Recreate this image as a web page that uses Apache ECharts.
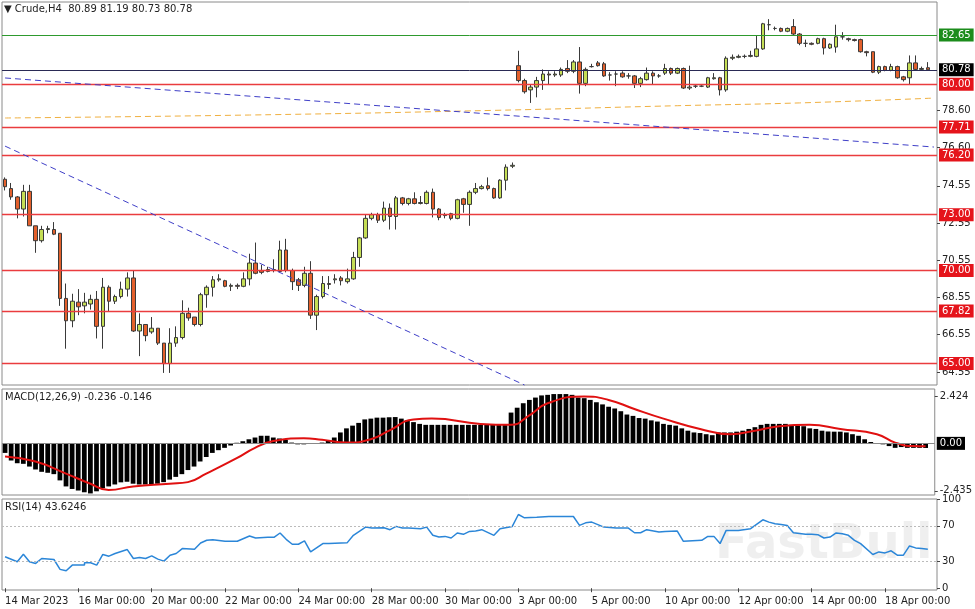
<!DOCTYPE html>
<html>
<head>
<meta charset="utf-8">
<script src="https://cdn.jsdelivr.net/npm/echarts@6/dist/echarts.min.js"></script>
<style>
  html, body { margin: 0; padding: 0; background: #fff; }
  #main { width: 975px; height: 609px; }
</style>
</head>
<body>
<div id="main"></div>
<script>
// H4 bars, index 0..151
var opens = [74.9,74.4,73.95,73.3,74.25,72.4,71.6,72.2,72.2,72.0,68.5,67.3,68.3,68.1,68.2,68.45,67.0,69.1,68.35,68.6,
  69.0,69.6,66.75,67.1,66.7,66.9,66.1,65.0,66.1,66.4,67.7,67.5,67.1,68.7,69.1,69.5,69.45,69.15,69.2,69.15,
  69.55,70.4,70.0,69.95,70.05,69.95,71.1,70.0,69.5,69.2,69.85,67.6,68.6,69.3,69.5,69.6,69.4,69.55,70.7,71.75,
  72.8,73.0,72.7,73.35,72.9,73.9,73.6,73.85,73.6,73.6,74.2,73.3,73.0,73.05,72.8,73.85,73.55,74.2,74.4,74.55,
  74.4,73.9,74.85,75.6,81.0,80.2,79.7,79.85,80.2,80.55,80.5,80.5,80.85,80.7,81.2,80.05,80.95,81.15,81.1,80.5,
  80.55,80.6,80.45,80.45,80.05,80.25,80.6,80.45,80.6,80.85,80.6,80.85,79.8,79.9,79.9,79.85,80.3,80.35,79.7,81.4,
  81.45,81.5,81.5,81.5,81.9,83.2,83.0,83.0,82.85,83.1,82.7,82.2,82.2,82.2,82.45,81.95,82.0,82.55,82.45,82.4,
  82.4,81.75,81.75,80.65,80.95,80.75,80.95,80.4,80.35,81.15,80.8,80.89];
var closes = [74.5,73.95,73.3,74.25,72.4,71.6,72.2,72.25,71.95,68.5,67.3,68.35,68.05,68.3,68.45,67.0,69.1,68.35,68.6,69.0,
  69.6,66.75,67.1,66.5,66.9,66.1,65.0,66.1,66.4,67.7,67.45,67.1,68.7,69.1,69.5,69.55,69.15,69.2,69.15,69.55,
  70.4,69.85,69.9,70.05,70.0,71.1,70.0,69.4,69.2,69.85,67.6,68.6,69.3,69.25,69.55,69.45,69.55,70.7,71.75,72.8,
  73.0,72.7,73.35,72.9,73.9,73.6,73.85,73.6,73.65,74.2,73.3,72.85,72.95,72.8,73.8,73.55,74.2,74.4,74.5,74.4,
  73.9,74.85,75.55,75.65,80.2,79.6,79.85,80.2,80.55,80.5,80.55,80.8,80.7,81.2,80.05,80.8,80.95,81.0,80.45,80.5,
  80.55,80.4,80.45,80.05,80.3,80.6,80.45,80.45,80.85,80.6,80.85,79.8,79.85,79.9,79.9,80.35,80.35,79.7,81.4,81.45,
  81.5,81.5,81.55,81.9,83.25,83.2,83.0,82.85,83.0,82.7,82.2,82.2,82.15,82.45,81.95,82.15,82.55,82.55,82.4,82.35,
  81.75,81.7,80.65,80.95,80.75,80.95,80.35,80.25,81.15,80.8,80.85,80.78];
var highs = [75.0,74.7,74.0,74.6,74.6,72.4,72.4,72.4,72.6,72.0,69.3,68.75,69.0,68.8,68.7,68.9,69.6,69.2,68.7,69.4,
  69.9,70.0,67.7,67.1,67.5,66.9,66.1,66.9,67.0,68.4,68.0,67.5,68.8,69.2,69.7,69.8,69.5,69.3,69.3,69.9,
  70.9,71.5,70.3,70.2,70.6,71.6,71.7,70.1,69.6,70.2,70.5,68.7,69.7,69.7,69.8,69.7,70.1,71.0,71.8,73.0,
  73.1,73.1,73.7,73.6,74.0,73.95,73.9,74.2,74.0,74.3,74.4,73.35,73.1,73.1,73.85,73.9,74.3,74.7,74.6,75.0,
  74.45,74.9,75.7,75.8,81.8,80.3,80.0,80.4,80.8,80.7,80.7,80.9,81.3,81.3,82.0,80.9,81.1,81.25,81.2,80.65,
  80.7,80.7,80.6,80.5,80.4,80.9,80.7,80.55,81.1,80.9,80.9,80.9,81.0,80.0,79.95,80.4,80.6,80.4,81.5,81.6,
  81.6,81.6,81.8,82.6,83.3,83.5,83.1,83.05,83.05,83.5,82.75,82.4,82.25,82.5,82.5,82.2,83.2,82.8,82.5,82.45,
  82.45,81.8,81.75,81.0,81.0,81.1,81.0,80.45,81.55,81.55,80.95,81.19];
var lows = [74.3,73.8,72.8,72.9,72.4,70.95,71.5,72.0,71.9,68.1,65.8,66.95,67.6,67.7,67.9,66.35,65.8,67.8,68.2,68.5,
  68.6,66.7,65.4,66.2,66.6,66.0,64.5,64.5,65.9,66.3,67.3,67.0,67.0,68.0,68.6,69.4,69.1,68.9,69.0,69.1,
  69.2,69.8,69.8,69.9,69.9,69.9,69.9,68.95,68.9,69.1,67.4,66.8,68.5,69.0,69.3,69.2,69.3,69.5,70.2,71.7,
  72.7,72.55,72.6,72.2,72.2,73.5,73.5,73.55,73.55,73.55,72.85,72.7,72.8,72.7,72.75,73.1,72.4,74.1,74.35,74.3,
  73.85,73.85,74.3,75.5,80.1,79.5,79.0,79.3,79.7,80.0,80.4,80.4,80.6,80.6,79.5,79.9,80.9,80.95,80.4,80.2,
  79.9,80.35,80.3,79.8,79.85,80.2,80.0,80.35,80.5,80.5,80.55,79.75,79.7,79.8,79.85,79.8,80.25,79.4,79.6,81.3,
  81.4,81.4,81.45,81.45,81.85,82.9,82.9,82.8,82.8,82.65,82.1,82.0,82.1,82.15,81.6,81.9,81.7,82.4,82.3,82.3,
  81.7,81.5,80.6,80.55,80.7,80.7,80.3,80.15,80.0,80.75,80.75,80.73];

var macdHist = [-0.49,-0.88,-1.02,-1.05,-1.19,-1.34,-1.46,-1.51,-1.58,-1.90,-2.21,-2.34,-2.42,-2.51,-2.57,-2.46,-2.30,-2.21,-2.11,-2.00,
  -1.97,-2.07,-2.11,-2.11,-2.11,-2.07,-1.99,-1.86,-1.72,-1.58,-1.37,-1.19,-0.93,-0.70,-0.49,-0.35,-0.23,-0.11,0.03,0.11,
  0.21,0.30,0.39,0.39,0.30,0.25,0.18,0.04,-0.05,-0.05,-0.03,0.01,0.04,0.12,0.30,0.56,0.77,0.91,1.05,1.23,
  1.27,1.32,1.32,1.34,1.35,1.27,1.18,1.09,1.00,0.95,0.95,0.95,0.95,0.95,0.95,0.95,0.95,0.95,0.95,0.95,
  0.95,0.95,0.95,1.58,1.83,2.06,2.23,2.35,2.46,2.49,2.53,2.53,2.53,2.49,2.35,2.32,2.23,2.11,2.00,1.88,
  1.79,1.65,1.48,1.41,1.30,1.27,1.18,1.12,1.00,0.95,0.91,0.77,0.65,0.56,0.53,0.47,0.42,0.56,0.56,0.56,
  0.60,0.65,0.74,0.83,0.95,1.00,1.00,1.00,1.00,0.95,0.91,0.88,0.77,0.74,0.65,0.61,0.60,0.60,0.56,0.47,
  0.39,0.21,0.07,-0.01,-0.05,-0.14,-0.23,-0.19,-0.23,-0.23,-0.23,-0.236];

var macdSignal = [[0,-0.67],[5,-0.93],[10.4,-1.55],[13.7,-2.07],[17,-2.39],[21.3,-2.21],[26.8,-2.07],[30,-1.99],
  [33.3,-1.55],[37.7,-0.76],[41,-0.23],[44.2,0.12],[48.6,0.26],[51.9,0.18],[56.2,0.04],[59.5,0.21],[62.8,0.65],
  [67.2,1.23],[70.4,1.27],[78.1,1.0],[82.5,0.95],[85.7,1.44],[89,2.06],[94.5,2.41],[98.8,2.23],[102.6,1.79],
  [108.1,1.27],[113.6,0.74],[118.5,0.47],[122.8,0.65],[127.2,0.88],[131.6,0.95],[137,0.74],[142.5,0.47],
  [145.7,0.04],[149,-0.14],[151.2,-0.15]];

var rsiPoints = [[0,35.2],[1.7,29.6],[2.9,38.1],[4.1,29.6],[5,27.8],[6.1,33.3],[7.7,32.2],[8.9,21.1],[9.9,19.6],
  [11,25.9],[12.6,25.9],[13.4,28.5],[14.2,28.5],[14.9,25.9],[15.9,37.8],[17,35.9],[18.3,38.9],[19.8,43.3],
  [20.8,33.3],[21.9,34.4],[23,33.3],[24,36.3],[25.2,32.6],[26,30.4],[26.9,37],[27.9,38.9],[29,44.4],[30.6,43.7],
  [31.7,50.7],[33.3,53.7],[34.4,54.4],[35.8,52.6],[38.2,52.6],[39.9,58.5],[41,56.3],[43.2,57],[44,57],[44.8,61.9],
  [45.9,54.8],[47,49.3],[48.1,49.3],[48.9,53],[49.8,40.7],[51.6,50],[53.2,50],[55.7,51.1],[57.1,59.3],[59,68.5],
  [60.1,67.4],[61.7,67.8],[62.8,65.6],[63.8,69.3],[65,67.4],[66.1,67.4],[67.7,66.7],[68.8,68.5],[69.9,59.3],
  [71,57.4],[72.1,58.1],[72.9,56.3],[74,61.9],[74.8,60.4],[75.9,63.7],[77,64.1],[78.1,65.6],[79.7,59.3],
  [81.1,66.7],[82.5,69.3],[83.7,82.6],[84.6,78.9],[86.8,79.6],[89,80.4],[91.2,80.4],[92.6,80.4],[93.9,70.4],
  [95,73.3],[96.1,74.1],[97.5,68.5],[99.9,67.4],[101.6,67.4],[102.9,62.2],[104.3,62.2],[105.1,65.6],[106.5,63],
  [107.6,63.7],[108.1,65.6],[109.7,64.1],[110.8,52.6],[113.6,53.7],[114.7,58.1],[115.7,58.1],[116.7,50],
  [117.9,64.8],[119.6,64.8],[121.7,66.7],[123.7,76.7],[125,74.1],[126.1,72.2],[127.2,71.5],[127.7,70.4],
  [129.4,62.2],[130.5,60.4],[131.6,60.4],[132.7,60],[133.7,56.3],[134.8,57.4],[135.9,61.9],[137,61.1],
  [138.1,59.3],[139.2,53.7],[140.3,50],[141.7,37.8],[142.8,40.7],[144.1,39.6],[144.7,41.9],[145.7,37],
  [146.6,37],[147.7,47.4],[148.8,45.2],[150.4,44.4],[151,43.6]];

// slow moving average (orange dashed)
var maPoints = [[0,78.19],[40,78.35],[80,78.6],[110,78.85],[130,79.0],[152,79.26]];

var redLevels = [80.00, 77.71, 76.20, 73.00, 70.00, 67.82, 65.00];
var greenLevel = 82.65;
var lastPrice = 80.78;
var priceTicks = [64.55, 66.55, 68.55, 70.55, 72.55, 74.55, 76.60, 78.60];
var macdTicks = [-2.435, 2.424];
var rsiTicks = [0, 30, 70, 100];

var dateIdx = [0, 12, 24, 36, 48, 60, 72, 84, 96, 108, 120, 132, 144];
var dateText = ['14 Mar 2023', '16 Mar 00:00', '20 Mar 00:00', '22 Mar 00:00', '24 Mar 00:00', '28 Mar 00:00',
  '30 Mar 00:00', '3 Apr 00:00', '5 Apr 00:00', '10 Apr 00:00', '12 Apr 00:00', '14 Apr 00:00', '18 Apr 00:00'];

var nSlots = 153;
var cats = [];
for (var i = 0; i < nSlots; i++) cats.push(String(i));
var ohlc = opens.map(function (o, i) { return [o, closes[i], lows[i], highs[i]]; });

var font = 'DejaVu Sans';

function xAx(gi, showLabels) {
  return {
    type: 'category', gridIndex: gi, data: cats, boundaryGap: true,
    axisLine: { show: false }, splitLine: { show: false },
    axisTick: { show: showLabels, alignWithLabel: true, length: 4, lineStyle: { color: '#444' },
      interval: function (i) { return dateIdx.indexOf(i) >= 0; } },
    axisLabel: { show: showLabels, fontFamily: font, fontSize: 10, color: '#222', align: 'left', margin: 6,
      interval: function (i) { return dateIdx.indexOf(i) >= 0; },
      formatter: function (v, i) { var k = dateIdx.indexOf(i); return k >= 0 ? dateText[k] : ''; } }
  };
}
function yAx(gi, min, max, ticks, fmt) {
  return {
    type: 'value', gridIndex: gi, position: 'right', min: min, max: max, scale: true,
    splitLine: { show: false },
    axisLine: { show: false },
    axisTick: { show: true, length: 3, customValues: ticks, lineStyle: { color: '#444' } },
    axisLabel: { fontFamily: font, fontSize: 10, color: '#222', margin: 5, customValues: ticks, formatter: fmt }
  };
}

var priceLines = redLevels.map(function (v) {
  return { yAxis: v, lineStyle: { color: '#ea3c3f', width: 1.3, type: 'solid' },
    label: { backgroundColor: '#e5141b', color: '#fff' } };
});
priceLines.push({ yAxis: greenLevel, lineStyle: { color: '#2e9a2e', width: 1, type: 'solid' },
  label: { backgroundColor: '#1c8c1c', color: '#fff' } });
priceLines.push({ yAxis: lastPrice, lineStyle: { color: '#2a2a55', width: 1, type: 'solid' },
  label: { backgroundColor: '#000', color: '#fff' } });
// trend lines
priceLines.push([{ coord: [0, 80.34], lineStyle: { color: '#4040c8', type: [6, 4], width: 1 }, label: { show: false } },
  { coord: [152, 76.63] }]);
priceLines.push([{ coord: [0, 76.68], lineStyle: { color: '#4040c8', type: [6, 4], width: 1 }, label: { show: false } },
  { coord: [85, 63.85] }]);

var chart = echarts.init(document.getElementById('main'));
chart.setOption({
  animation: false,
  backgroundColor: '#fff',
  grid: [
    { left: 2, right: 38, top: 2, height: 383, show: true, borderColor: '#8a8a8a', borderWidth: 1 },
    { left: 2, right: 38, top: 389, height: 106, show: true, borderColor: '#8a8a8a', borderWidth: 1 },
    { left: 2, right: 38, top: 499, height: 91, show: true, borderColor: '#8a8a8a', borderWidth: 1 }
  ],
  xAxis: [xAx(0, false), xAx(1, false), xAx(2, true)],
  yAxis: [
    yAx(0, 63.85, 84.42, priceTicks, function (v) { return v.toFixed(2); }),
    yAx(1, -2.65, 2.79, macdTicks, function (v) { return v.toFixed(3); }),
    yAx(2, -2, 100, rsiTicks, function (v) { return String(v); })
  ],
  graphic: [
    { type: 'text', left: 4, top: 4, style: { text: '\u25BC Crude,H4  80.89 81.19 80.73 80.78', font: '10px "DejaVu Sans"', fill: '#222' } },
    { type: 'text', left: 5, top: 392, style: { text: 'MACD(12,26,9) -0.236 -0.146', font: '10px "DejaVu Sans"', fill: '#222' } },
    { type: 'text', left: 5, top: 502, style: { text: 'RSI(14) 43.6246', font: '10px "DejaVu Sans"', fill: '#222' } },
    { type: 'text', left: 715, top: 522, z: -1, style: { text: 'FastBull', font: 'bold 48px "DejaVu Sans"', fill: 'rgba(210,210,210,0.35)' } }
  ],
  series: [
    {
      type: 'candlestick', xAxisIndex: 0, yAxisIndex: 0, data: ohlc, barWidth: '68%',
      itemStyle: { color: '#c5de55', color0: '#e3602c', borderColor: '#3a3a3a', borderColor0: '#3a3a3a', borderWidth: 1 },
      markLine: {
        symbol: ['none', 'none'], silent: true, animation: false,
        label: { position: 'end', distance: 2, fontFamily: font, fontSize: 10, padding: [2, 3, 1, 3],
          formatter: function (p) { return Number(p.value).toFixed(2); } },
        data: priceLines
      }
    },
    {
      type: 'line', xAxisIndex: 0, yAxisIndex: 0, data: maPoints, smooth: true, showSymbol: false,
      lineStyle: { color: '#f0b040', width: 1, type: [6, 4] }
    },
    {
      type: 'bar', xAxisIndex: 1, yAxisIndex: 1, data: macdHist, barWidth: '78%',
      itemStyle: { color: '#000' },
      markLine: {
        symbol: ['none', 'none'], silent: true,
        data: [
          { yAxis: 0, lineStyle: { color: '#888', width: 1, type: 'solid' },
            label: { show: true, position: 'end', distance: 2, formatter: '0.00', backgroundColor: '#000', color: '#fff',
              fontFamily: font, fontSize: 10, padding: [2, 3, 1, 3] } },
          [{ coord: [93.6, 2.71], label: { show: false }, lineStyle: { color: '#5050d0', width: 1, type: 'solid' } }, { coord: [152.8, 0.03] }]
        ]
      }
    },
    {
      type: 'line', xAxisIndex: 1, yAxisIndex: 1, data: macdSignal, smooth: true, showSymbol: false,
      lineStyle: { color: '#e01010', width: 2 }
    },
    {
      type: 'line', xAxisIndex: 2, yAxisIndex: 2, data: rsiPoints, showSymbol: false,
      lineStyle: { color: '#2b86d8', width: 1.5 },
      markLine: {
        symbol: ['none', 'none'], silent: true, label: { show: false },
        data: [
          { yAxis: 30, lineStyle: { color: '#bbb', type: [2, 2], width: 1 } },
          { yAxis: 70, lineStyle: { color: '#bbb', type: [2, 2], width: 1 } },
          [{ coord: [84.6, 88.1], lineStyle: { color: '#5050d0', width: 1.2, type: 'solid' } }, { coord: [152.8, 69.3] }]
        ]
      }
    }
  ]
});
</script>
</body>
</html>
